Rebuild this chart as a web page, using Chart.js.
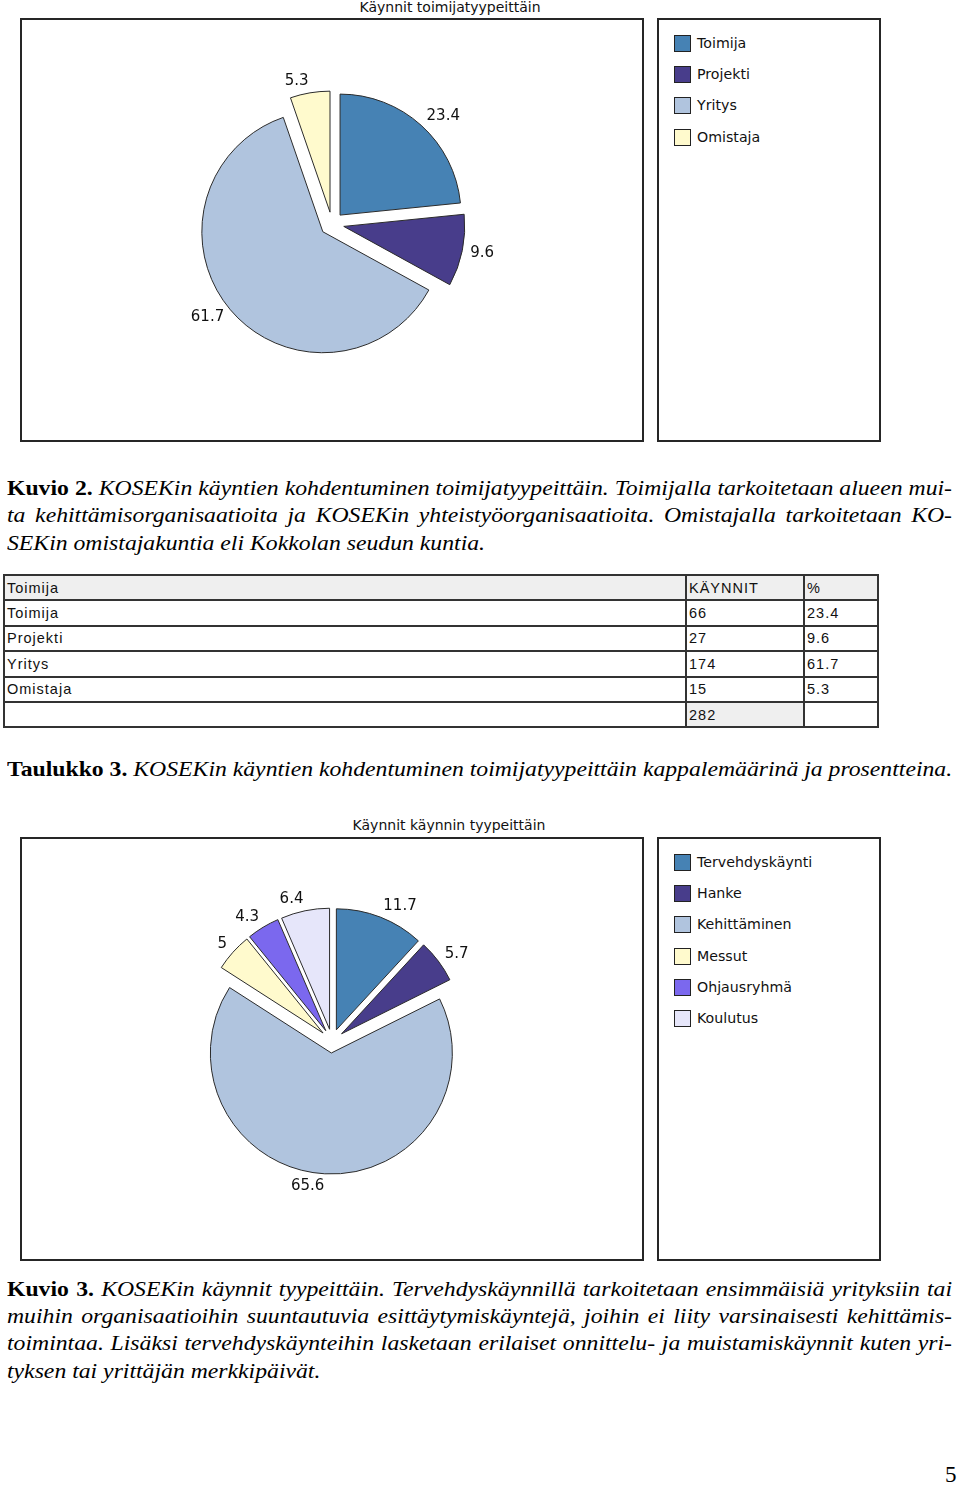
<!DOCTYPE html>
<html>
<head>
<meta charset="utf-8">
<script src="https://cdn.jsdelivr.net/npm/chart.js@4"></script>
<style>
  html, body { margin:0; padding:0; background:#fff; }
  body { width:960px; height:1487px; position:relative; overflow:hidden; }
  .abs { position:absolute; }
  .box { position:absolute; border:2px solid #262626; box-sizing:border-box; background:#fff; }
  .ctitle { position:absolute; font-family:"DejaVu Sans", sans-serif; font-size:14px; color:#111; white-space:nowrap; transform:translateX(-50%); }
  .legrow { position:absolute; left:674px; height:18px; font-family:"DejaVu Sans", sans-serif; font-size:14.2px; color:#111; white-space:nowrap; line-height:18px; }
  .legrow span.sw { position:absolute; left:0; top:0; width:15px; height:15px; border:1px solid #222; }
  .legrow span.tx { position:absolute; left:23px; top:-1px; }
  .cap { position:absolute; left:7px; font-family:"Liberation Serif", "Times New Roman", serif; font-size:22px; line-height:27px; height:27px; white-space:nowrap; color:#000; transform-origin:0 0; }
  .cap b { font-weight:bold; font-style:normal; }
  .cap i { font-style:italic; }
  .just { text-align:justify; text-align-last:justify; }
  table.t { position:absolute; left:3px; top:574px; border-collapse:collapse; font-family:"Liberation Sans", Arial, sans-serif; font-size:14.5px; letter-spacing:1px; color:#111; }
  table.t td { border:2px solid #333; height:25.4px; padding:0 0 0 2px; vertical-align:middle; line-height:16px; box-sizing:border-box; }
  table.t tr.hd td { background:#efefef; }
  table.t td.gray { background:#efefef; }
</style>
</head>
<body>
<div class="ctitle" style="left:450px; top:-1px;">Käynnit toimijatyypeittäin</div>
<div class="box" style="left:20px; top:18px; width:624px; height:424px;"></div>
<div class="box" style="left:657px; top:18px; width:224px; height:424px;"></div>
<canvas id="c1" class="abs" style="left:22px; top:20px;" width="620" height="420"></canvas>
<div id="leg1"></div>

<div id="caps"></div>
<table class="t" id="tbl"></table>

<div class="ctitle" style="left:449px; top:817px;">Käynnit käynnin tyypeittäin</div>
<div class="box" style="left:20px; top:837px; width:624px; height:424px;"></div>
<div class="box" style="left:657px; top:837px; width:224px; height:424px;"></div>
<canvas id="c2" class="abs" style="left:22px; top:839px;" width="620" height="420"></canvas>
<div id="leg2"></div>

<div class="abs" style="left:945px; top:1462px; font-family:'Liberation Serif',serif; font-size:23px;">5</div>

<script>
// ---- data ----
const toimijaLabels = ['Toimija', 'Projekti', 'Yritys', 'Omistaja'];
const toimijaVisits = [66, 27, 174, 15];
const toimijaPct = [23.4, 9.6, 61.7, 5.3];
const toimijaTotal = 282;
const toimijaColors = ['#4682B4', '#483D8B', '#B0C4DE', '#FFFACD'];

const tyyppiLabels = ['Tervehdyskäynti', 'Hanke', 'Kehittäminen', 'Messut', 'Ohjausryhmä', 'Koulutus'];
const tyyppiPct = [11.7, 5.7, 65.6, 5, 4.3, 6.4];
const tyyppiColors = ['#4682B4', '#483D8B', '#B0C4DE', '#FFFACD', '#7B68EE', '#E6E6FA'];

const tableHeader = ['Toimija', 'KÄYNNIT', '%'];

// ---- captions ----
const caps = [
  {y: 488, html: '<b>Kuvio 2.</b> <i>KOSEKin käyntien kohdentuminen toimijatyypeittäin. Toimijalla tarkoitetaan alueen mui-</i>', just: true},
  {y: 515, html: '<i>ta kehittämisorganisaatioita ja KOSEKin yhteistyöorganisaatioita. Omistajalla tarkoitetaan KO-</i>', just: true},
  {y: 543, html: '<i>SEKin omistajakuntia eli Kokkolan seudun kuntia.</i>', just: false},
  {y: 769, html: '<b>Taulukko 3.</b> <i>KOSEKin käyntien kohdentuminen toimijatyypeittäin kappalemäärinä ja prosentteina.</i>', just: false},
  {y: 1289, html: '<b>Kuvio 3.</b> <i>KOSEKin käynnit tyypeittäin. Tervehdyskäynnillä tarkoitetaan ensimmäisiä yrityksiin tai</i>', just: true},
  {y: 1316, html: '<i>muihin organisaatioihin suuntautuvia esittäytymiskäyntejä, joihin ei liity varsinaisesti kehittämis-</i>', just: true},
  {y: 1343, html: '<i>toimintaa. Lisäksi tervehdyskäynteihin lasketaan erilaiset onnittelu- ja muistamiskäynnit kuten yri-</i>', just: true},
  {y: 1371, html: '<i>tyksen tai yrittäjän merkkipäivät.</i>', just: false}
];
const capWidth = 945;
const capsDiv = document.getElementById('caps');
const probe = document.createElement('div');
probe.className = 'cap';
probe.innerHTML = caps[3].html;
capsDiv.appendChild(probe);
const capScale = capWidth / probe.scrollWidth;
capsDiv.removeChild(probe);
caps.forEach(c => {
  const d = document.createElement('div');
  d.className = 'cap' + (c.just ? ' just' : '');
  d.style.top = (c.y - 14) + 'px';
  d.innerHTML = c.html;
  capsDiv.appendChild(d);
  let s = capScale;
  const natural = d.scrollWidth;
  if (c.just) {
    if (natural * s > capWidth) s = capWidth / natural;
    d.style.width = (capWidth / s) + 'px';
  }
  d.style.transform = 'scaleX(' + s + ')';
});

// ---- table ----
const tbl = document.getElementById('tbl');
function addRow(cells, cls, grayIdx) {
  const tr = document.createElement('tr');
  if (cls) tr.className = cls;
  const widths = [682, 118, 74];
  cells.forEach((t, i) => {
    const td = document.createElement('td');
    td.textContent = t;
    td.style.width = widths[i] + 'px';
    if (grayIdx === i) td.className = 'gray';
    tr.appendChild(td);
  });
  tbl.appendChild(tr);
}
addRow(tableHeader, 'hd');
toimijaLabels.forEach((l, i) => addRow([l, String(toimijaVisits[i]), String(toimijaPct[i])]));
addRow(['', String(toimijaTotal), ''], null, 1);

// ---- legends ----
function buildLegend(id, labels, colors, top0) {
  const el = document.getElementById(id);
  labels.forEach((l, i) => {
    const r = document.createElement('div');
    r.className = 'legrow';
    r.style.top = (top0 + i * 31.2) + 'px';
    r.innerHTML = '<span class="sw" style="background:' + colors[i] + '"></span><span class="tx">' + l + '</span>';
    el.appendChild(r);
  });
}
buildLegend('leg1', toimijaLabels, toimijaColors, 35);
buildLegend('leg2', tyyppiLabels, tyyppiColors, 854);

// ---- plugins ----
const explodePlugin = {
  id: 'explode',
  beforeDatasetDraw(chart, args, opts) {
    const ctx = chart.ctx;
    const d = opts.distance || 12;
    args.meta.data.forEach(arc => {
      const mid = (arc.startAngle + arc.endAngle) / 2;
      ctx.save();
      ctx.translate(Math.cos(mid) * d, Math.sin(mid) * d);
      arc.draw(ctx);
      ctx.restore();
    });
    return false;
  }
};
const valueLabelPlugin = {
  id: 'valueLabels',
  afterDatasetsDraw(chart, args, opts) {
    const ctx = chart.ctx;
    const meta = chart.getDatasetMeta(0);
    const vals = chart.data.datasets[0].data;
    ctx.save();
    ctx.font = '15px "DejaVu Sans", sans-serif';
    ctx.fillStyle = '#111';
    ctx.textBaseline = 'middle';
    meta.data.forEach((arc, i) => {
      const mid = (arc.startAngle + arc.endAngle) / 2;
      const r = opts.dist;
      const c = Math.cos(mid), s = Math.sin(mid);
      ctx.textAlign = c >= 0 ? 'left' : 'right';
      ctx.fillText(String(vals[i]), arc.x + c * r, arc.y + s * (r + 4));
    });
    ctx.restore();
  }
};

function makePie(id, labels, data, colors, padBottom, labelDist) {
  return new Chart(document.getElementById(id), {
    type: 'pie',
    data: {
      labels: labels,
      datasets: [{
        data: data,
        backgroundColor: colors,
        borderColor: '#2b2b2b',
        borderWidth: 1
      }]
    },
    options: {
      responsive: false,
      animation: false,
      radius: 121,
      layout: { padding: { top: 0, bottom: padBottom, left: 0, right: 0 } },
      events: [],
      plugins: {
        legend: { display: false },
        tooltip: { enabled: false },
        title: { display: false },
        explode: { distance: 12 },
        valueLabels: { dist: labelDist }
      }
    },
    plugins: [explodePlugin, valueLabelPlugin]
  });
}
makePie('c1', toimijaLabels, toimijaPct, toimijaColors, 12, 141);
makePie('c2', tyyppiLabels, tyyppiPct, tyyppiColors, 16, 141);
</script>
</body>
</html>
